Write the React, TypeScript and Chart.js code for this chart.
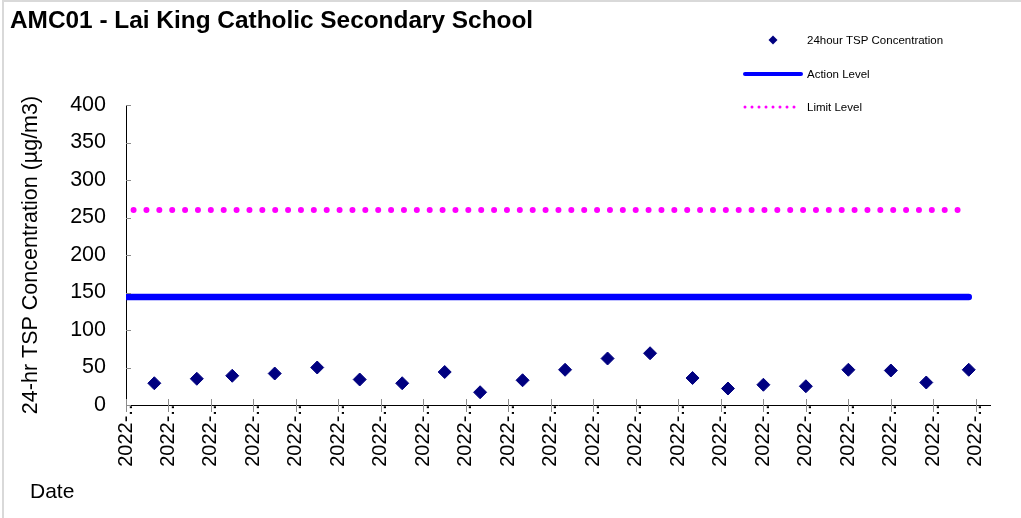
import React, { useEffect, useRef } from 'react';
import { Chart, registerables } from 'chart.js';

Chart.register(...registerables);

const FONT = "'Liberation Sans', Arial, Helvetica, sans-serif";

const titleText = 'AMC01 - Lai King Catholic Secondary School';
const seriesLabels = ['24hour TSP Concentration', 'Action Level', 'Limit Level'];
const yAxisTitle = '24-hr TSP Concentration (µg/m3)';
const xAxisTitle = 'Date';

// sampling day (days after the first axis date) and 24-hr TSP values
const sampleDays = [4, 10, 15, 21, 27, 33, 39, 45, 50, 56, 62, 68, 74, 80, 85, 90, 96, 102, 108, 113, 119];
const tspValues = [29, 35, 39, 42, 50, 34, 29, 44, 17, 33, 47, 62, 69, 36, 22, 27, 25, 47, 46, 30, 47];

const levelDays = [0, 119];
const actionLevel = [144, 144];
const limitLevel = [260, 260];

const xTickDays = [0, 6, 12, 18, 24, 30, 36, 42, 48, 54, 60, 66, 72, 78, 84, 90, 96, 102, 108, 114, 120];
const xTickLabels = [
  '2022-...', '2022-...', '2022-...', '2022-...', '2022-...', '2022-...', '2022-...',
  '2022-...', '2022-...', '2022-...', '2022-...', '2022-...', '2022-...', '2022-...',
  '2022-...', '2022-...', '2022-...', '2022-...', '2022-...', '2022-...', '2022-...',
];

const decorPlugin = {
  id: 'decor',
  afterDraw(chart: any) {
    const ctx = chart.ctx;
    const ds = chart.data.datasets;
    ctx.save();

    // chart frame
    ctx.strokeStyle = '#d9d9d9';
    ctx.lineWidth = 2;
    ctx.beginPath();
    ctx.moveTo(3, 518);
    ctx.lineTo(3, 1);
    ctx.lineTo(1021, 1);
    ctx.stroke();

    // axis tick marks
    const xs = chart.scales.x;
    const ys = chart.scales.y;
    ctx.strokeStyle = '#8c8c8c';
    ctx.lineWidth = 1;
    ctx.beginPath();
    xs.ticks.forEach((t: any) => {
      const px = Math.round(xs.getPixelForValue(t.value)) + 0.5;
      ctx.moveTo(px, xs.top - 6);
      ctx.lineTo(px, xs.top + 7);
    });
    ys.ticks.forEach((t: any) => {
      const py = Math.round(ys.getPixelForValue(t.value)) + 0.5;
      ctx.moveTo(ys.right, py);
      ctx.lineTo(ys.right + 5, py);
    });
    ctx.stroke();

    // title
    ctx.fillStyle = '#000';
    ctx.font = `bold 24.4px ${FONT}`;
    ctx.textAlign = 'left';
    ctx.textBaseline = 'alphabetic';
    ctx.fillText(titleText, 10, 28);

    // x axis title
    ctx.font = `21px ${FONT}`;
    ctx.textBaseline = 'middle';
    ctx.fillText(xAxisTitle, 30, 492);

    // legend
    ctx.font = `11.5px ${FONT}`;
    ctx.textBaseline = 'middle';
    const tx = 807;
    // diamond
    ctx.fillStyle = ds[0].backgroundColor;
    ctx.beginPath();
    ctx.moveTo(773, 35.5);
    ctx.lineTo(777.5, 40);
    ctx.lineTo(773, 44.5);
    ctx.lineTo(768.5, 40);
    ctx.closePath();
    ctx.fill();
    ctx.fillStyle = '#000';
    ctx.fillText(seriesLabels[0], tx, 41);
    // action line
    ctx.strokeStyle = ds[1].borderColor;
    ctx.lineWidth = 4;
    ctx.lineCap = 'round';
    ctx.beginPath();
    ctx.moveTo(745, 74);
    ctx.lineTo(801, 74);
    ctx.stroke();
    ctx.fillText(seriesLabels[1], tx, 75);
    // limit dotted
    ctx.strokeStyle = ds[2].borderColor;
    ctx.lineWidth = 3;
    ctx.setLineDash([0, 7]);
    ctx.beginPath();
    ctx.moveTo(745, 107);
    ctx.lineTo(801, 107);
    ctx.stroke();
    ctx.setLineDash([]);
    ctx.fillText(seriesLabels[2], tx, 108);

    ctx.restore();
  },
};

export default function App() {
  const ref = useRef<HTMLCanvasElement>(null);

  useEffect(() => {
    if (!ref.current) return;
    const chart = new Chart(ref.current, {
      type: 'scatter',
      data: {
        datasets: [
          {
            type: 'scatter',
            label: seriesLabels[0],
            data: sampleDays.map((d, i) => ({ x: d, y: tspValues[i] })),
            pointStyle: 'rectRot',
            pointRadius: 6.5,
            pointBackgroundColor: '#000080',
            pointBorderColor: '#000080',
            backgroundColor: '#000080',
            borderColor: '#000080',
            pointBorderWidth: 1,
            showLine: false,
            order: 0,
          },
          {
            type: 'line',
            label: seriesLabels[1],
            data: levelDays.map((d, i) => ({ x: d, y: actionLevel[i] })),
            borderColor: '#0000FF',
            backgroundColor: '#0000FF',
            borderWidth: 6.5,
            borderCapStyle: 'round',
            pointRadius: 0,
            fill: false,
            clip: 0,
            order: 2,
          },
          {
            type: 'line',
            label: seriesLabels[2],
            data: levelDays.map((d, i) => ({ x: d, y: limitLevel[i] })),
            borderColor: '#FF00FF',
            backgroundColor: '#FF00FF',
            borderWidth: 6,
            borderCapStyle: 'round',
            borderDash: [0, 12.875],
            borderDashOffset: 5.3,
            pointRadius: 0,
            fill: false,
            clip: 0,
            order: 1,
          },
        ] as any,
      },
      options: {
        responsive: false,
        animation: false,
        devicePixelRatio: 1,
        layout: { padding: { top: 105, right: 31, bottom: 0, left: 0 } },
        plugins: {
          legend: { display: false },
          title: { display: false },
          tooltip: { enabled: false },
        },
        scales: {
          x: {
            type: 'linear',
            min: 0,
            max: 122,
            afterBuildTicks: (s: any) => {
              s.ticks = xTickDays.map((v) => ({ value: v }));
            },
            afterFit: (s: any) => {
              s.height = 113;
            },
            grid: { display: false, drawTicks: false },
            border: { display: true, color: '#000', width: 1 },
            ticks: {
              autoSkip: false,
              maxRotation: 90,
              minRotation: 90,
              padding: -6,
              color: '#000',
              font: { family: FONT, size: 20 },
              callback: (_v: any, i: number) => xTickLabels[i],
            },
          },
          y: {
            type: 'linear',
            min: 0,
            max: 400,
            afterFit: (s: any) => {
              s.width = 126;
            },
            grid: { display: false, drawTicks: false },
            border: { display: true, color: '#000', width: 1 },
            ticks: {
              stepSize: 50,
              padding: 20,
              color: '#000',
              font: { family: FONT, size: 21.5 },
            },
            title: {
              display: true,
              text: yAxisTitle,
              color: '#000',
              font: { family: FONT, size: 21.5 },
              padding: { top: 18, bottom: 0 },
            },
          },
        },
      } as any,
      plugins: [decorPlugin],
    });
    return () => chart.destroy();
  }, []);

  return (
    <div style={{ position: 'fixed', left: 0, top: 0, width: 1021, height: 518, background: '#fff' }}>
      <canvas ref={ref} width={1021} height={518} style={{ display: 'block' }} />
    </div>
  );
}
